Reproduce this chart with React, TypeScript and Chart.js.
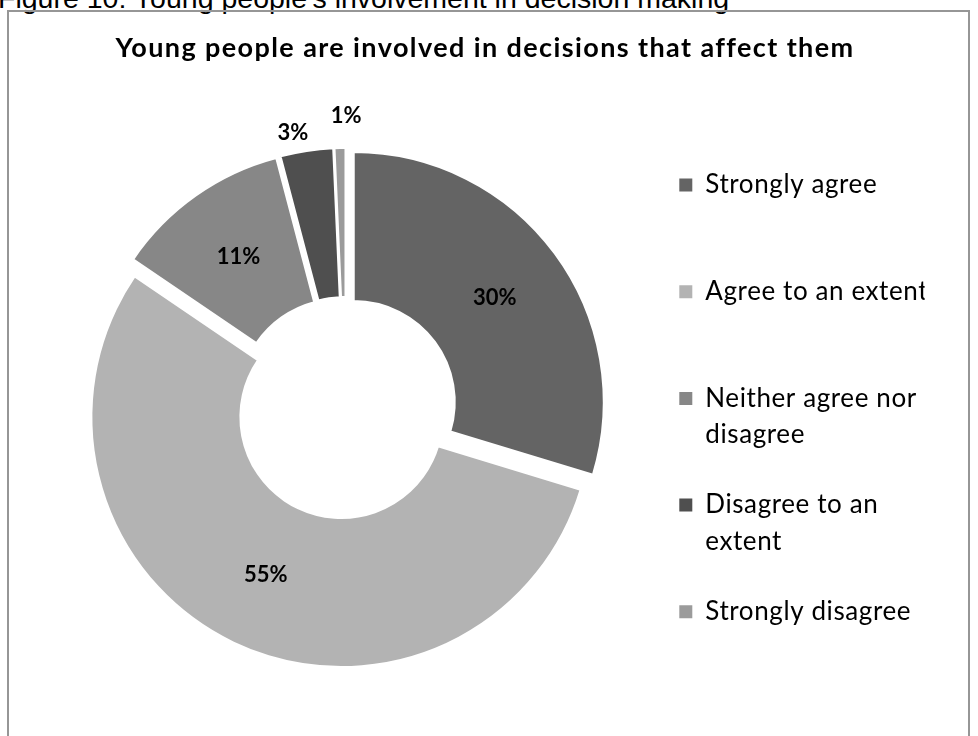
import React, { useEffect, useRef } from 'react';
import { Chart, registerables } from 'chart.js';

Chart.register(...registerables);

// ---- data ----
const caption = "Figure 10: Young people's involvement in decision making";
const chartTitle = 'Young people are involved in decisions that affect them';
const categories = [
  'Strongly agree',
  'Agree to an extent',
  'Neither agree nor disagree',
  'Disagree to an extent',
  'Strongly disagree',
];
const shares = [29.7, 54.8, 11.4, 3.4, 0.7];
const legendLines = [
  ['Strongly agree'],
  ['Agree to an extent'],
  ['Neither agree nor', 'disagree'],
  ['Disagree to an', 'extent'],
  ['Strongly disagree'],
];
const sliceColors = ['#646464', '#b3b3b3', '#878787', '#4f4f4f', '#9b9b9b'];

// ---- styling / placement constants ----
const FONT = 'Lato, "Noto Sans", sans-serif';
const EXPLODE = 10; // px each slice is pulled out along its bisector
const OUTSIDE_GAP = [0, 0, 0, 20, 32]; // 0 = label inside ring
const LABEL_ANGLE_NUDGE = [0, 0, 0, -2.3, 1.4]; // degrees, for outside labels
const TITLE_SPACING = '1.4px';
const LEGEND_SPACING = '0.6px';
const CANVAS_W = 959;
const CANVAS_H = 724;

const explodePlugin = {
  id: 'explodeSlices',
  afterDatasetUpdate(chart: any, args: any) {
    args.meta.data.forEach((arc: any) => {
      const mid = (arc.startAngle + arc.endAngle) / 2;
      arc.x += Math.cos(mid) * EXPLODE;
      arc.y += Math.sin(mid) * EXPLODE;
    });
  },
};

const spacingPlugin = {
  id: 'letterSpacing',
  afterLayout(chart: any) {
    const wrap = (box: any, spacing: string) => {
      if (!box || box.__spaced) return;
      const orig = box.draw.bind(box);
      box.draw = (area: any) => {
        const ctx: any = chart.ctx;
        const prev = ctx.letterSpacing;
        ctx.letterSpacing = spacing;
        orig(area);
        ctx.letterSpacing = prev || '0px';
      };
      box.__spaced = true;
    };
    wrap(chart.titleBlock, TITLE_SPACING);
    wrap(chart.legend, LEGEND_SPACING);
  },
};

const sliceLabelsPlugin = {
  id: 'sliceLabels',
  afterDatasetsDraw(chart: any) {
    const meta = chart.getDatasetMeta(0);
    const values = chart.data.datasets[0].data as number[];
    const total = values.reduce((a, b) => a + b, 0);
    const ctx = chart.ctx;
    ctx.save();
    ctx.font = `bold 22px ${FONT}`;
    ctx.fillStyle = '#000000';
    ctx.textAlign = 'center';
    ctx.textBaseline = 'middle';
    meta.data.forEach((arc: any, i: number) => {
      const gap = OUTSIDE_GAP[i];
      const mid = (arc.startAngle + arc.endAngle) / 2 + (LABEL_ANGLE_NUDGE[i] * Math.PI) / 180;
      const r = gap > 0 ? arc.outerRadius + gap : (arc.innerRadius + arc.outerRadius) / 2;
      const text = Math.round((values[i] / total) * 100) + '%';
      ctx.fillText(text, arc.x + Math.cos(mid) * r, arc.y + Math.sin(mid) * r);
    });
    ctx.restore();
  },
};

export default function App() {
  const canvasRef = useRef<HTMLCanvasElement | null>(null);

  useEffect(() => {
    if (!canvasRef.current) return;
    const chart = new Chart(canvasRef.current, {
      type: 'doughnut',
      data: {
        labels: categories,
        datasets: [
          {
            data: shares,
            backgroundColor: sliceColors,
            borderColor: '#ffffff',
            borderWidth: 2,
            clip: false as any,
          } as any,
        ],
      },
      options: {
        responsive: false,
        animation: false,
        radius: 250,
        cutout: '40.4%',
        layout: { padding: { left: 36.4, right: 43.4, top: 0, bottom: 58.7 } },
        plugins: {
          title: {
            display: true,
            text: chartTitle,
            color: '#000000',
            font: { family: FONT, size: 27, weight: 'bold', lineHeight: 1.2 },
            padding: { top: 20.3, bottom: 74.0 },
          },
          legend: {
            display: true,
            position: 'right',
            align: 'start',
            fullSize: false,
            maxWidth: 278.6,
            labels: {
              color: '#000000',
              boxWidth: 13,
              boxHeight: 13,
              padding: 33.3,
              font: { family: FONT, size: 26, lineHeight: 36.7 / 26 },
              generateLabels: (ch: any) => {
                const base = (Chart as any).overrides.doughnut.plugins.legend.labels.generateLabels(ch);
                return base.map((item: any, i: number) => {
                  const lines = legendLines[i].slice();
                  while (lines.length < 2) lines.push('');
                  return { ...item, text: lines, lineWidth: 0, strokeStyle: 'rgba(0,0,0,0)' };
                });
              },
            },
          },
          tooltip: { enabled: false },
        },
      },
      plugins: [explodePlugin, spacingPlugin, sliceLabelsPlugin],
    });
    chart.draw();
    return () => chart.destroy();
  }, []);

  return (
    <div style={{ position: 'absolute', left: 0, top: 0, width: 978, height: 736, overflow: 'hidden', background: '#ffffff' }}>
      <div
        style={{
          position: 'absolute',
          left: -2,
          top: -18,
          lineHeight: '32px',
          fontSize: 28.5,
          fontFamily: '"Liberation Sans", Arial, sans-serif',
          whiteSpace: 'nowrap',
          color: '#000000',
        }}
      >
        {caption}
      </div>
      <div
        style={{
          position: 'absolute',
          left: 7,
          top: 10,
          width: 963,
          height: 800,
          boxSizing: 'border-box',
          border: '2px solid #969696',
        }}
      />
      <canvas
        ref={canvasRef}
        width={CANVAS_W}
        height={CANVAS_H}
        style={{ position: 'absolute', left: 9, top: 12, width: CANVAS_W, height: CANVAS_H }}
      />
    </div>
  );
}
